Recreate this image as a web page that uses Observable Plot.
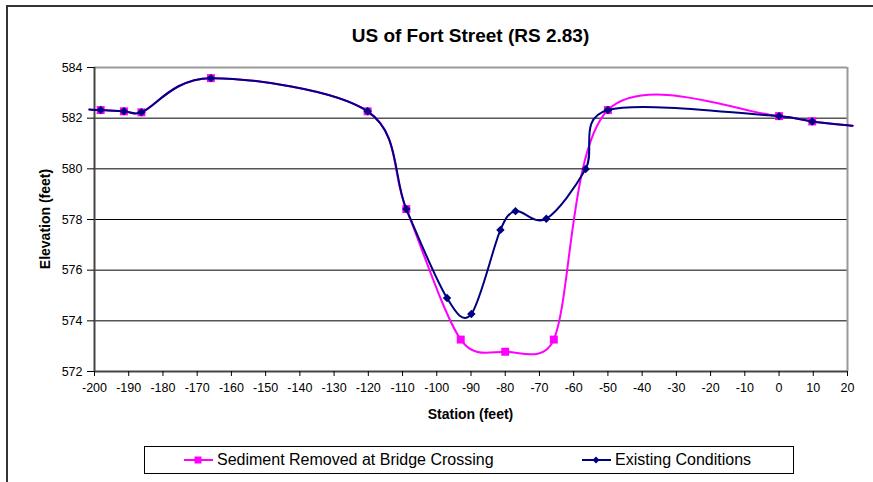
<!DOCTYPE html>
<html>
<head>
<meta charset="utf-8">
<script src="https://cdn.jsdelivr.net/npm/d3@7"></script>
<script src="https://cdn.jsdelivr.net/npm/@observablehq/plot@0.6"></script>
<style>
  html, body { margin: 0; padding: 0; background: #fff; }
  body { font-family: Arial, "Liberation Sans", sans-serif; }
  #wrap { position: relative; width: 873px; height: 482px; overflow: hidden; }
  #frame { position: absolute; left: 6px; top: 5px; width: 900px; height: 600px;
           border-left: 2px solid #333; border-top: 2px solid #333; }
  #title { position: absolute; left: 94px; width: 753px; top: 25px; text-align: center;
           font-weight: bold; font-size: 19px; }
  #ylabel { position: absolute; left: 45px; top: 219px; transform: translate(-50%, -50%) rotate(-90deg);
            font-weight: bold; font-size: 14px; white-space: nowrap; }
  #xlabel { position: absolute; left: 94px; width: 753px; top: 406px; text-align: center;
            font-weight: bold; font-size: 14px; }
  #legend { position: absolute; left: 144px; top: 446px; width: 648px; height: 26px;
            border: 1px solid #000; background: #fff; font-size: 16px; }
  .item { position: absolute; top: 0; height: 26px; display: flex; align-items: center; white-space: nowrap; }
  #chart { position: absolute; left: 0; top: 0; }
</style>
</head>
<body>
<div id="wrap">
  <div id="frame"></div>
  <div id="chart"></div>
  <div id="title"></div>
  <div id="ylabel"></div>
  <div id="xlabel"></div>
  <div id="legend"></div>
</div>
<script>
const titleText = "US of Fort Street (RS 2.83)";
const xLabel = "Station (feet)";
const yLabel = "Elevation (feet)";
const seriesNames = ["Sediment Removed at Bridge Crossing", "Existing Conditions"];
const seriesColors = ["#FF00FF", "#000080"];

const stationSed = [-201.5, -198.2, -191.4, -186.3, -166.0, -120.2, -108.9, -93.0, -80.0, -65.8, -50.0, 0.0, 9.7, 21.5];
const elevSed    = [582.34, 582.32, 582.27, 582.23, 583.58, 582.27, 578.41, 573.26, 572.78, 573.26, 582.32, 582.08, 581.87, 581.70];

const stationExist = [-201.5, -198.2, -191.4, -186.3, -166.0, -120.2, -108.9, -97.0, -89.9, -81.4, -77.0, -68.0, -56.5, -50.0, 0.0, 9.7, 21.5];
const elevExist    = [582.34, 582.32, 582.27, 582.23, 583.58, 582.27, 578.41, 574.90, 574.27, 577.59, 578.33, 578.03, 579.99, 582.32, 582.08, 581.87, 581.70];

const xTicks = d3.range(-200, 21, 10);
const yTicks = [572, 574, 576, 578, 580, 582, 584];
const gridY = [574, 576, 578, 580, 582];

const xMin = -200, xMax = 20, yMin = 572, yMax = 584;

const sed = stationSed.map((x, i) => ({x, y: elevSed[i]}));
const ex = stationExist.map((x, i) => ({x, y: elevExist[i]}));
const inside = d => d.x >= xMin && d.x <= xMax;

// Spreadsheet-style smoothed line: Bezier segments, control arms 1/6 of the
// neighbour chord, capped at half the segment length.
function SmoothCurve(context) { this._context = context; }
SmoothCurve.prototype = {
  areaStart() {}, areaEnd() {},
  lineStart() { this._pts = []; },
  point(x, y) { this._pts.push([+x, +y]); },
  lineEnd() {
    const p = this._pts, c = this._context, n = p.length;
    if (!n) return;
    const dist = (a, b) => Math.hypot(b[0] - a[0], b[1] - a[1]);
    c.moveTo(p[0][0], p[0][1]);
    for (let i = 0; i < n - 1; i++) {
      const p0 = p[Math.max(0, i - 1)], p1 = p[i], p2 = p[i + 1], p3 = p[Math.min(n - 1, i + 2)];
      const d12 = dist(p1, p2), d02 = dist(p0, p2), d13 = dist(p1, p3);
      let f1 = 1 / 6, f2 = 1 / 6;
      if (d02 / 6 > d12 / 2 && d02 > 0) f1 = d12 / (2 * d02);
      if (d13 / 6 > d12 / 2 && d13 > 0) f2 = d12 / (2 * d13);
      c.bezierCurveTo(
        p1[0] + f1 * (p2[0] - p0[0]), p1[1] + f1 * (p2[1] - p0[1]),
        p2[0] - f2 * (p3[0] - p1[0]), p2[1] - f2 * (p3[1] - p1[1]),
        p2[0], p2[1]
      );
    }
  }
};
const smooth = context => new SmoothCurve(context);

const chart = Plot.plot({
  width: 873,
  height: 482,
  marginLeft: 94,
  marginRight: 26,
  marginTop: 67,
  marginBottom: 111,
  style: { fontFamily: "Arial, 'Liberation Sans', sans-serif", fontSize: "12.5px", color: "#000", background: "transparent" },
  x: { domain: [xMin, xMax], nice: false },
  y: { domain: [yMin, yMax], nice: false },
  marks: [
    Plot.ruleY(gridY, { stroke: "#000", strokeWidth: 1 }),
    Plot.ruleY([yMax], { stroke: "#999", strokeWidth: 2 }),
    Plot.ruleX([xMax], { stroke: "#999", strokeWidth: 2 }),
    Plot.ruleX([xMin], { stroke: "#444", strokeWidth: 2 }),
    Plot.ruleY([yMin], { stroke: "#444", strokeWidth: 2 }),
    Plot.axisY({ ticks: yTicks, tickFormat: d => String(d), tickSize: 7, tickPadding: 5, label: null, stroke: "#000" }),
    Plot.axisX({ ticks: xTicks, tickFormat: d => String(d), tickSize: 5, tickPadding: 7, label: null, stroke: "#000" }),
    Plot.line(sed, { x: "x", y: "y", stroke: seriesColors[0], strokeWidth: 2, curve: smooth }),
    Plot.dot(sed.filter(inside), { x: "x", y: "y", symbol: "square", r: 4.5, fill: seriesColors[0], stroke: "none" }),
    Plot.line(ex, { x: "x", y: "y", stroke: seriesColors[1], strokeWidth: 2, curve: smooth }),
    Plot.dot(ex.filter(inside), { x: "x", y: "y", symbol: "diamond2", r: 3.8, fill: seriesColors[1], stroke: "none" })
  ]
});
document.getElementById("chart").appendChild(chart);

document.getElementById("title").textContent = titleText;
document.getElementById("xlabel").textContent = xLabel;
document.getElementById("ylabel").textContent = yLabel;

const legend = document.getElementById("legend");
const legendPos = [39, 437];
seriesNames.forEach((name, i) => {
  const item = document.createElement("div");
  item.className = "item";
  item.style.left = legendPos[i] + "px";
  const sym = i === 0
    ? `<rect x="10.5" y="3.5" width="7" height="7" fill="${seriesColors[i]}"/>`
    : `<path d="M14,3.5 L17.5,7 L14,10.5 L10.5,7 Z" fill="${seriesColors[i]}"/>`;
  item.innerHTML = `<svg width="29" height="14" style="margin-right:4px"><line x1="0" x2="29" y1="7" y2="7" stroke="${seriesColors[i]}" stroke-width="2"/>${sym}</svg><span>${name}</span>`;
  legend.appendChild(item);
});
</script>
</body>
</html>
